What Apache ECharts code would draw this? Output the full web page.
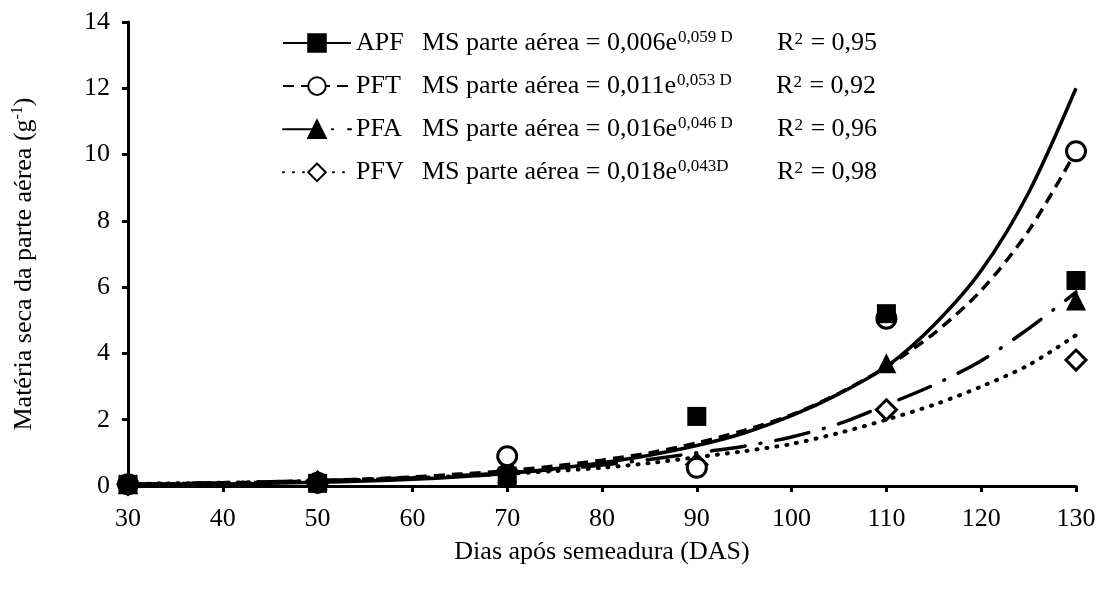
<!DOCTYPE html>
<html>
<head>
<meta charset="utf-8">
<script src="https://cdn.jsdelivr.net/npm/echarts@6/dist/echarts.min.js"></script>
<style>
html,body{margin:0;padding:0;background:#fff;}
#chart{width:1104px;height:589px;}
</style>
</head>
<body>
<div id="chart"></div>
<script>
// ---- data ----
const sampleDays = [30, 50, 70, 90, 110, 130];
const apfPoints = [0.05, 0.08, 0.3, 2.1, 5.2, 6.2];
const pftPoints = [0.05, 0.1, 0.9, 0.55, 5.05, 10.1];
const pfaPoints = [0.05, 0.18, 0.4, 0.7, 3.7, 5.6];
const pfvPoints = [0.05, 0.12, 0.45, 0.65, 2.3, 3.8];

const curveDays = [30,35,40,45,50,55,60,65,70,75,80,85,90,95,100,105,110,115,120,125,130];
const apfCurve = [0.035,0.05,0.06,0.085,0.11,0.15,0.2,0.28,0.38,0.52,0.7,0.93,1.22,1.6,2.12,2.78,3.6,4.85,6.5,8.85,12.0];
const pftCurve = [0.05,0.07,0.09,0.12,0.16,0.21,0.27,0.36,0.46,0.6,0.78,1.0,1.3,1.68,2.15,2.8,3.6,4.6,5.9,7.7,10.1];
const pfaCurve = [0.06,0.08,0.1,0.13,0.16,0.2,0.25,0.32,0.4,0.5,0.63,0.8,1.0,1.2,1.48,1.88,2.45,3.05,3.78,4.75,5.85];
const pfvCurve = [0.06,0.08,0.1,0.12,0.15,0.19,0.24,0.3,0.37,0.45,0.55,0.69,0.87,1.05,1.27,1.6,2.0,2.45,3.0,3.65,4.55];

const seriesNames = ['APF', 'PFT', 'PFA', 'PFV'];
const eqCoef = ['0,006', '0,011', '0,016', '0,018'];
const eqExp = ['0,059 D', '0,053 D', '0,046 D', '0,043D'];
const r2Values = ['0,95', '0,92', '0,96', '0,98'];

const xTicks = {min: 30, max: 130, interval: 10};
const yTicks = {min: 0, max: 14, interval: 2};
const xTitle = 'Dias após semeadura (DAS)';
const yTitle = 'Matéria seca da parte aérea (g{sup|-1})';

// ---- styles ----
const FONT = '"Liberation Serif", "DejaVu Serif", serif';
const FS = 26;
const symbols = ['rect', 'circle', 'triangle', 'diamond'];
const fills = ['#000', '#fff', '#000', '#fff'];
const symSizes = [19, 19, 20, 20];
const dashes = ['solid', [11, 7], [34, 15, 1, 15], [1, 9]];
const caps = ['butt', 'butt', 'round', 'round'];
const widths = [3.5, 3.5, 3.5, 4];

const curves = [apfCurve, pftCurve, pfaCurve, pfvCurve];
const points = [apfPoints, pftPoints, pfaPoints, pfvPoints];

const series = [];
curves.forEach((c, i) => {
  series.push({
    name: seriesNames[i],
    type: 'line',
    smooth: 0.3,
    showSymbol: false,
    symbol: symbols[i],
    symbolSize: 18,
    itemStyle: {color: fills[i], borderColor: '#000', borderWidth: 3},
    lineStyle: {color: '#000', width: widths[i], type: dashes[i], cap: caps[i]},
    data: curveDays.map((d, k) => [d, c[k]]),
    z: 2,
    silent: true
  });
});
// draw observations so that APF squares end up on top
[3, 2, 1, 0].forEach((i, order) => {
  const p = points[i];
  series.push({
    name: seriesNames[i] + ' obs',
    type: 'scatter',
    symbol: symbols[i],
    symbolSize: symSizes[i],
    itemStyle: {color: fills[i], borderColor: '#000', borderWidth: i % 2 ? 3 : 0, opacity: 1},
    data: sampleDays.map((d, k) => [d, p[k]]),
    z: 5 + order
  });
});

const chart = echarts.init(document.getElementById('chart'), null, {renderer: 'canvas'});
chart.setOption({
  animation: false,
  backgroundColor: '#fff',
  grid: {left: 128, right: 28, top: 22, bottom: 103},
  legend: {
    data: seriesNames,
    orient: 'vertical',
    left: 277,
    top: 24,
    itemWidth: 68,
    itemHeight: 22,
    itemGap: 14.1,
    selectedMode: false,
    formatter: function (name) {
      const i = seriesNames.indexOf(name);
      return '{n|' + name + '}{eq|MS parte aérea = ' + eqCoef[i] + 'e}{sup|' + eqExp[i] + '}{r|R}{sup2|2}{r| = ' + r2Values[i] + '}';
    },
    textStyle: {
      fontFamily: FONT,
      fontSize: FS,
      color: '#000',
      rich: {
        n: {fontFamily: FONT, fontSize: FS, color: '#000', width: 66, lineHeight: 30},
        eq: {fontFamily: FONT, fontSize: FS, color: '#000', lineHeight: 30},
        sup: {fontFamily: FONT, fontSize: 17, color: '#000', width: 99, lineHeight: 30, verticalAlign: 'bottom', padding: [0, 0, 12, 1]},
        r: {fontFamily: FONT, fontSize: FS, color: '#000', lineHeight: 30},
        sup2: {fontFamily: FONT, fontSize: 17, color: '#000', lineHeight: 30, verticalAlign: 'bottom', padding: [0, 1, 10, 0]}
      }
    }
  },
  xAxis: {
    type: 'value',
    min: xTicks.min, max: xTicks.max, interval: xTicks.interval,
    name: xTitle,
    nameLocation: 'middle',
    nameGap: 53,
    nameTextStyle: {fontFamily: FONT, fontSize: FS, color: '#000'},
    axisLine: {onZero: false, lineStyle: {color: '#000', width: 3}},
    axisTick: {show: true, inside: false, length: 6, lineStyle: {color: '#000', width: 3}},
    axisLabel: {fontFamily: FONT, fontSize: FS, color: '#000', margin: 20},
    splitLine: {show: false}
  },
  yAxis: {
    type: 'value',
    min: yTicks.min, max: yTicks.max, interval: yTicks.interval,
    name: yTitle,
    nameLocation: 'middle',
    nameGap: 90,
    nameRotate: 90,
    nameTextStyle: {
      fontFamily: FONT, fontSize: FS, color: '#000',
      padding: [0, 20, 0, 0],
      rich: {sup: {fontFamily: FONT, fontSize: 16, color: '#000', verticalAlign: 'bottom', padding: [0, 0, 12, 0]}}
    },
    axisLine: {show: true, lineStyle: {color: '#000', width: 3}},
    axisTick: {show: true, inside: false, length: 6, lineStyle: {color: '#000', width: 3}},
    axisLabel: {fontFamily: FONT, fontSize: FS, color: '#000', margin: 18},
    splitLine: {show: false}
  },
  series: series
});
</script>
</body>
</html>
